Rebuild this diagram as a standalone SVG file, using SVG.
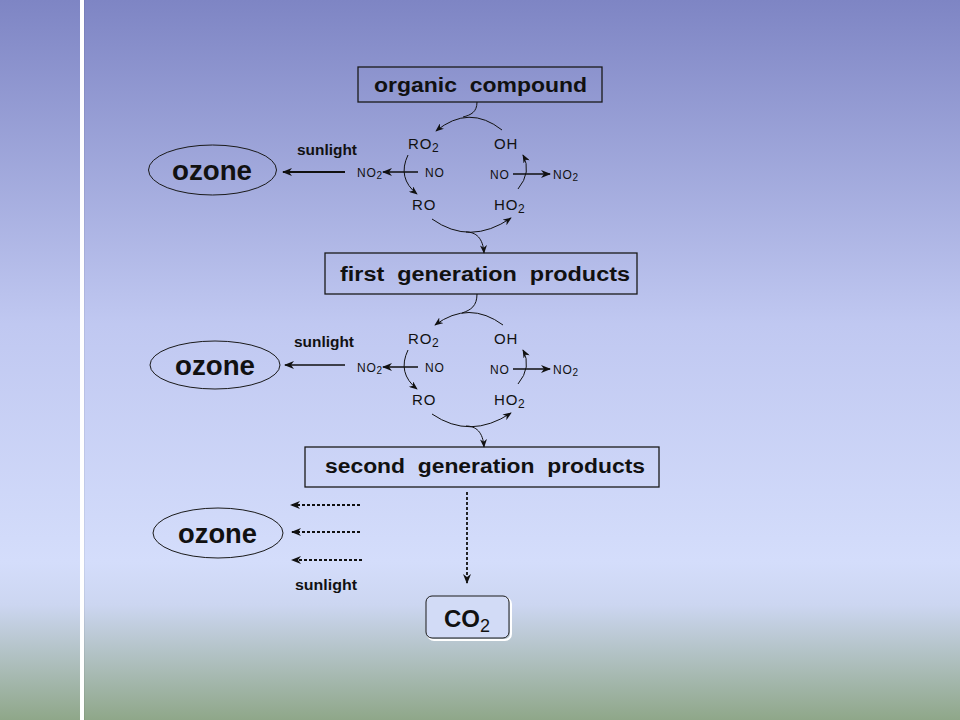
<svg xmlns="http://www.w3.org/2000/svg" width="960" height="720" viewBox="0 0 960 720">
<defs>
<linearGradient id="bg" x1="0" y1="0" x2="0" y2="1">
<stop offset="0" stop-color="#7e85c4"/>
<stop offset="0.45" stop-color="#c0c8f1"/>
<stop offset="0.78" stop-color="#d4ddfb"/>
<stop offset="0.84" stop-color="#ccd6f1"/>
<stop offset="1" stop-color="#8fa789"/>
</linearGradient>
<marker id="ah" viewBox="0 0 10 8" refX="9" refY="4" markerWidth="9" markerHeight="7" markerUnits="userSpaceOnUse" orient="auto">
<path d="M0,0 L10,4 L0,8 L3,4 z" fill="#111"/>
</marker>
<marker id="ahb" viewBox="0 0 10 8" refX="9" refY="4" markerWidth="13" markerHeight="8" markerUnits="userSpaceOnUse" orient="auto">
<path d="M0,0 L10,4 L0,8 L3,4 z" fill="#111"/>
</marker>
<style>
.box{fill:none;stroke:#1a1a1a;stroke-width:1.3}
.ell{fill:none;stroke:#1a1a1a;stroke-width:1}
.t{font-family:"Liberation Sans",Arial,sans-serif;fill:#111}
.big{font-size:20px;font-weight:bold;white-space:pre}
.oz{font-size:28px;font-weight:bold}
.sun{font-size:14.5px;font-weight:bold}
.sp{font-size:15px;letter-spacing:0.8px}
.sm{font-size:12px;letter-spacing:0.8px}
.arc{fill:none;stroke:#111;stroke-width:1;marker-end:url(#ah)}
.ln{fill:none;stroke:#111;stroke-width:1}
.thick{fill:none;stroke:#111;stroke-width:2;marker-end:url(#ahb)}
.med{fill:none;stroke:#111;stroke-width:1.4;marker-end:url(#ahb)}
.dot{fill:none;stroke:#111;stroke-width:1.8;stroke-dasharray:3 2;marker-end:url(#ahb)}
</style>
</defs>
<rect x="0" y="0" width="960" height="720" fill="url(#bg)"/>
<rect x="80" y="0" width="4" height="720" fill="#ffffff"/>
<rect x="84" y="0" width="1" height="720" fill="#000" opacity="0.06"/>

<g id="organic">
<rect class="box" x="358" y="67" width="244" height="35"/>
<text class="t big" x="374" y="92" textLength="213" lengthAdjust="spacingAndGlyphs">organic  compound</text>
</g>
<g id="first">
<rect class="box" x="325" y="253" width="312" height="41"/>
<text class="t big" x="340" y="281" textLength="290" lengthAdjust="spacingAndGlyphs">first  generation  products</text>
</g>
<g id="second">
<rect class="box" x="305" y="447" width="354" height="40"/>
<text class="t big" x="325" y="473" textLength="320" lengthAdjust="spacingAndGlyphs">second  generation  products</text>
</g>
<g id="co2">
<rect x="428" y="598" width="83" height="42" rx="6" fill="none" stroke="#fff" stroke-width="2"/>
<rect x="426" y="596" width="83" height="42" rx="6" fill="#d2dbf6" stroke="#1a1a1a" stroke-width="1"/>
<text class="t" x="444" y="627" style="font-size:24px;font-weight:bold">CO<tspan dy="5" style="font-size:18px;font-weight:normal">2</tspan></text>
</g>
<g id="ozone1">
<ellipse class="ell" cx="212.5" cy="170" rx="64" ry="25"/>
<text class="t oz" x="172" y="180" textLength="80" lengthAdjust="spacingAndGlyphs">ozone</text>
</g>
<g id="ozone2">
<ellipse class="ell" cx="215" cy="365" rx="65" ry="24"/>
<text class="t oz" x="175" y="375" textLength="80" lengthAdjust="spacingAndGlyphs">ozone</text>
</g>
<g id="ozone3">
<ellipse class="ell" cx="218" cy="533" rx="65" ry="25"/>
<text class="t oz" x="178" y="543" textLength="79" lengthAdjust="spacingAndGlyphs">ozone</text>
</g>

<g id="species1">
<text class="t sun" x="297" y="155" textLength="60" lengthAdjust="spacingAndGlyphs">sunlight</text>
<text class="t sp" x="408" y="149">RO<tspan dy="3" font-size="12">2</tspan></text>
<text class="t sp" x="494" y="149">OH</text>
<text class="t sm" x="357" y="177">NO<tspan dy="2" font-size="10">2</tspan></text>
<text class="t sm" x="425" y="177">NO</text>
<text class="t sm" x="490" y="179">NO</text>
<text class="t sm" x="553" y="179">NO<tspan dy="2" font-size="10">2</tspan></text>
<text class="t sp" x="412" y="210">RO</text>
<text class="t sp" x="494" y="210">HO<tspan dy="3" font-size="12">2</tspan></text>
</g>
<g id="species2">
<text class="t sun" x="294" y="347" textLength="60" lengthAdjust="spacingAndGlyphs">sunlight</text>
<text class="t sp" x="408" y="344">RO<tspan dy="3" font-size="12">2</tspan></text>
<text class="t sp" x="494" y="344">OH</text>
<text class="t sm" x="357" y="372">NO<tspan dy="2" font-size="10">2</tspan></text>
<text class="t sm" x="425" y="372">NO</text>
<text class="t sm" x="490" y="374">NO</text>
<text class="t sm" x="553" y="374">NO<tspan dy="2" font-size="10">2</tspan></text>
<text class="t sp" x="412" y="405">RO</text>
<text class="t sp" x="494" y="405">HO<tspan dy="3" font-size="12">2</tspan></text>
</g>
<g id="species3">
<text class="t sun" x="295" y="590" textLength="62" lengthAdjust="spacingAndGlyphs">sunlight</text>
</g>

<g id="connectors">
<!-- cycle 1 -->
<path class="ln" d="M477,102 C477,112 471,115 463,117"/>
<path class="arc" d="M502,130 Q469,104 436,131"/>
<path class="arc" d="M408,155 Q397,178 417,194"/>
<path class="arc" d="M432,219 Q470,246 511,218"/>
<path class="arc" d="M466,232 C476,232 483,238 484,253"/>
<path class="arc" d="M518,189 Q532,172 523,155"/>
<path class="med" d="M418,172 L383,172"/>
<path class="thick" d="M345,172 L283,172"/>
<path class="med" d="M513,174 L550,174"/>
<!-- cycle 2 -->
<path class="ln" d="M477,294 C477,306 471,310 462,313"/>
<path class="arc" d="M503,325 Q469,300 435,325"/>
<path class="arc" d="M408,350 Q397,373 417,389"/>
<path class="arc" d="M432,414 Q470,440 511,413"/>
<path class="arc" d="M466,426 C476,426 483,432 484,447"/>
<path class="arc" d="M518,384 Q532,367 523,350"/>
<path class="med" d="M418,367 L383,367"/>
<path class="med" d="M345,365 L285,365"/>
<path class="med" d="M513,369 L550,369"/>
<!-- dotted -->
<path class="dot" d="M467,492 L467,583"/>
<path class="dot" d="M360,505 L291,505"/>
<path class="dot" d="M360,532 L292,532"/>
<path class="dot" d="M362,560 L292,560"/>
</g>
</svg>
